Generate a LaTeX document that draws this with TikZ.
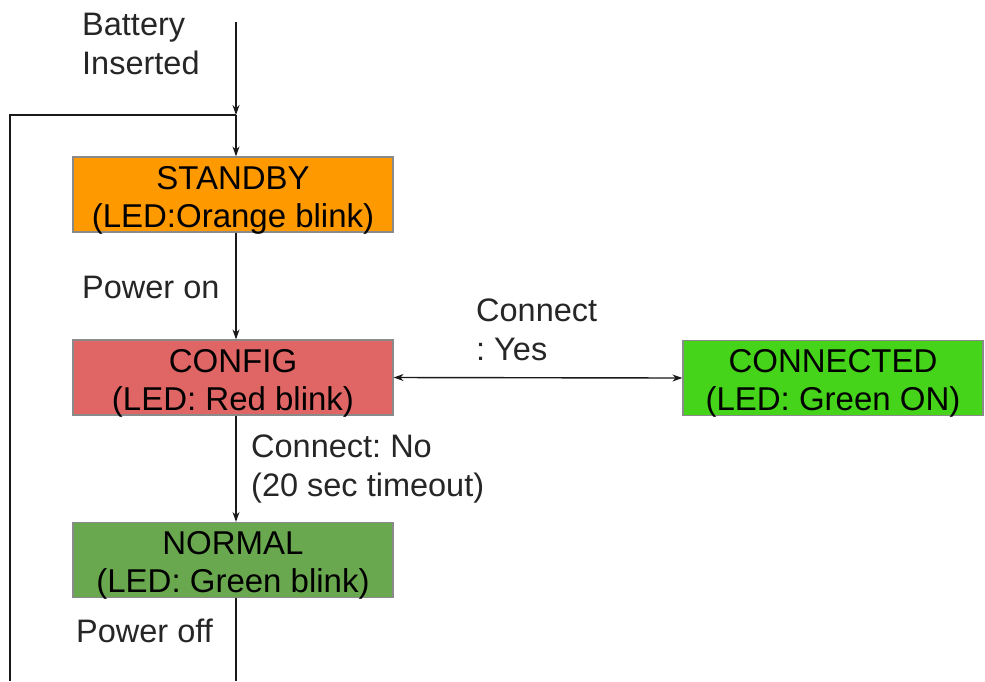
\documentclass[tikz,border=0pt]{standalone}
\usepackage{fontspec}
\setmainfont{Liberation Sans}
\frenchspacing
\usetikzlibrary{arrows.meta}
\definecolor{cstandby}{HTML}{FF9900}
\definecolor{cconfig}{HTML}{E06666}
\definecolor{cconnected}{HTML}{46D41A}
\definecolor{cnormal}{HTML}{6AA84F}
\definecolor{cborder}{HTML}{8A8A8A}
\newcommand{\topstrut}{\rule{0pt}{34pt}}
\tikzset{
  statebox/.style={draw=cborder, line width=1.2pt, minimum height=75pt, inner xsep=0pt, inner ysep=-4pt, align=center,
    font=\fontsize{33}{38}\selectfont},
  lbl/.style={anchor=west, align=left, inner sep=0pt, font=\fontsize{32.5}{39}\selectfont, text=black!85},
  conn/.style={line width=1.4pt, black!90},
  tip/.style={-{Stealth[length=10pt,width=7pt]}},
}
\begin{document}
\begin{tikzpicture}[x=1pt,y=-1pt]
\useasboundingbox (0,0) rectangle (985,681);
\node[statebox, fill=cstandby, minimum width=320pt] (standby) at (233,194.5) {\topstrut STANDBY\\(LED:Orange blink)};
\node[statebox, fill=cconfig, minimum width=320pt] (config) at (233,377.5) {\topstrut CONFIG\\(LED: Red blink)};
\node[statebox, fill=cconnected, minimum width=300pt] (connected) at (833,378) {\topstrut CONNECTED\\(LED: Green ON)};
\node[statebox, fill=cnormal, minimum width=320pt] (normal) at (233,560) {\topstrut NORMAL\\(LED: Green blink)};
\coordinate (start) at (236,22);
\coordinate (junction) at (236,115);
\coordinate (leftcorner) at (10,115);
\coordinate (leftbottom) at (10,681);
\coordinate (bottomend) at (236,681);
\draw[conn, tip] (start) -- (junction);
\draw[conn, tip] (junction) -- (junction |- standby.north);
\draw[conn] (junction) -- (leftcorner) -- (leftbottom);
\draw[conn, tip] (junction |- standby.south) -- (junction |- config.north);
\draw[conn, tip] (junction |- config.south) -- (junction |- normal.north);
\draw[conn] (junction |- normal.south) -- (bottomend);
\draw[conn, {Stealth[length=10pt,width=7pt]}-{Stealth[length=10pt,width=7pt]}] (config.east) -- (connected.west);
\node[lbl] (lbattery) at (82,44) {Battery\\Inserted};
\node[lbl] (lpoweron) at (82,287) {Power on};
\node[lbl] (lyes) at (476,330) {Connect\\: Yes};
\node[lbl] (lno) at (251,469) {Connect: No\\(20 sec timeout)};
\node[lbl] (lpoweroff) at (76,631) {Power off};
\end{tikzpicture}
\end{document}
